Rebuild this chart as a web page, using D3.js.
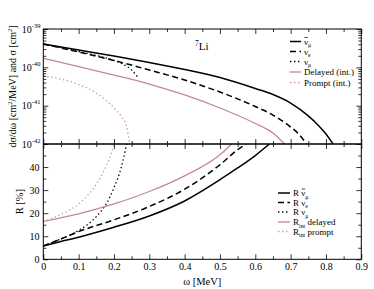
<!DOCTYPE html>
<html>
<head>
<meta charset="utf-8">
<script src="https://cdn.jsdelivr.net/npm/d3@7"></script>
<style>
  body { margin: 0; background: #fff; }
  text { font-family: "Liberation Serif", "Times New Roman", serif; fill: #000; }
</style>
</head>
<body>
<script>
// omega [MeV] / cross section [cm^2/MeV]
const sigmaAntiNuMu = [[0, 4.06e-40], [0.1, 2.83e-40], [0.2, 1.98e-40], [0.3, 1.34e-40], [0.4, 8.8e-41],
  [0.5, 5.4e-41], [0.6, 2.8e-41], [0.65, 1.95e-41], [0.7, 1.17e-41], [0.75, 5.4e-42], [0.78, 2.95e-42],
  [0.8, 1.82e-42], [0.82, 1e-42]];
const sigmaNuE = [[0, 4.06e-40], [0.1, 2.51e-40], [0.2, 1.51e-40], [0.3, 8.5e-41], [0.4, 4.67e-41],
  [0.5, 2.27e-41], [0.6, 9.5e-42], [0.65, 5.7e-42], [0.7, 2.77e-42], [0.72, 1.94e-42], [0.745, 1e-42]];
const sigmaNuMu = [[0, 4.06e-40], [0.1, 2.59e-40], [0.15, 2.04e-40], [0.2, 1.51e-40], [0.23, 1.15e-40],
  [0.25, 8.5e-41], [0.265, 5.94e-41], [0.27, 5.27e-41]];
const sigmaDelayed = [[0, 1.72e-40], [0.1, 1.05e-40], [0.2, 6.3e-41], [0.3, 3.67e-41], [0.4, 1.9e-41],
  [0.5, 8.7e-42], [0.6, 3.43e-42], [0.65, 1.94e-42], [0.683, 1e-42]];
const sigmaPrompt = [[0, 5.94e-41], [0.05, 4.96e-41], [0.1, 3.57e-41], [0.15, 2.14e-41], [0.2, 8.7e-42],
  [0.22, 5.37e-42], [0.235, 2.94e-42], [0.245, 1e-42]];

// omega [MeV] / R [%]
const rAntiNuMu = [[0, 5.8], [0.05, 7.7], [0.1, 9.6], [0.2, 13.9], [0.3, 18.8], [0.4, 25.3], [0.5, 34.5],
  [0.55, 39.6], [0.6, 45], [0.64, 50]];
const rNuE = [[0, 5.8], [0.05, 8.8], [0.1, 12], [0.2, 17.1], [0.3, 22.9], [0.4, 30.4], [0.5, 41],
  [0.55, 47.5], [0.574, 50]];
const rNuMu = [[0, 5.8], [0.05, 8.8], [0.1, 12.5], [0.15, 18.5], [0.18, 24.5], [0.2, 31], [0.22, 39.5],
  [0.236, 50]];
const rDelayed = [[0, 16.4], [0.1, 19.7], [0.2, 24], [0.3, 29.4], [0.4, 36.2], [0.5, 45.3], [0.533, 50]];
const rPrompt = [[0, 16.4], [0.05, 19.5], [0.1, 24], [0.13, 28.5], [0.15, 32.5], [0.17, 38], [0.19, 45],
  [0.2, 50]];

const xTicks = [0, 0.1, 0.2, 0.3, 0.4, 0.5, 0.6, 0.7, 0.8, 0.9];
const xLabels = ["0", "0.1", "0.2", "0.3", "0.4", "0.5", "0.6", "0.7", "0.8", "0.9"];
const decadeTicks = [1e-42, 1e-41, 1e-40, 1e-39];
const decadeLabels = ["-42", "-41", "-40", "-39"];
const rTicks = [0, 10, 20, 30, 40];

// legend labels: [main, sub, overbar]
const topLegend = [["ν", "μ", true], ["ν", "e", false], ["ν", "μ", false], ["Delayed (int.)", "", false], ["Prompt (int.)", "", false]];
const bottomLegend = [["R ν", "μ", true], ["R ν", "e", false], ["R ν", "μ", false], ["R", "int", false], ["R", "int", false]];
const bottomLegendTail = ["", "", "", " delayed", " prompt"];

let svg = null;
let x, yTop, yBot = null;
let pLeft = 43.3, pRight = 361.3, pTop = 29, pMid = 144, pBottom = 259.3;

const styles = [
  { color: "#000", width: 1.5, dash: null },
  { color: "#000", width: 1.5, dash: "6,3.5" },
  { color: "#000", width: 1.3, dash: "1.4,2.6" },
  { color: "#c48a8a", width: 1.3, dash: null },
  { color: "#d09a9a", width: 1.3, dash: "1.4,2.6" }
];

main();

function main() {
  svg = d3.select("body").append("svg").attr("width", 374).attr("height", 289);
  setupScales();
  appendClips();
  appendCurves();
  appendAxes();
  appendFrame();
  appendLabels();
  appendLegends();
}

function setupScales() {
  x = d3.scaleLinear().domain([0, 0.9]).range([pLeft, pRight]);
  yTop = d3.scaleLog().domain([1e-42, 1e-39]).range([pMid, pTop]);
  yBot = d3.scaleLinear().domain([0, 50]).range([pBottom, pMid]);
}

function appendClips() {
  let defs = svg.append("defs");
  defs.append("clipPath").attr("id", "clipTop").append("rect")
    .attr("x", pLeft).attr("y", pTop).attr("width", pRight - pLeft).attr("height", pMid - pTop);
  defs.append("clipPath").attr("id", "clipBot").append("rect")
    .attr("x", pLeft).attr("y", pMid).attr("width", pRight - pLeft).attr("height", pBottom - pMid);
}

function drawLine(g, data, yScale, st) {
  let line = d3.line()
    .x(function (d) { return x(d[0]); })
    .y(function (d) { return yScale(d[1]); })
    .curve(d3.curveMonotoneX);
  g.append("path")
    .datum(data)
    .attr("d", line)
    .attr("fill", "none")
    .attr("stroke", st.color)
    .attr("stroke-width", st.width)
    .attr("stroke-dasharray", st.dash);
}

function appendCurves() {
  let gt = svg.append("g").attr("clip-path", "url(#clipTop)");
  [sigmaAntiNuMu, sigmaNuE, sigmaNuMu, sigmaDelayed, sigmaPrompt].forEach(function (d, i) {
    drawLine(gt, d, yTop, styles[i]);
  });
  let gb = svg.append("g").attr("clip-path", "url(#clipBot)");
  [rAntiNuMu, rNuE, rNuMu, rDelayed, rPrompt].forEach(function (d, i) {
    drawLine(gb, d, yBot, styles[i]);
  });
}

function tickGroup(axis, tx, ty) {
  let g = svg.append("g").attr("transform", `translate(${tx}, ${ty})`).call(axis);
  g.select(".domain").remove();
  g.selectAll("line").attr("stroke", "#000").attr("stroke-width", 0.8);
  return g;
}

function appendAxes() {
  let minorX = d3.range(0.05, 0.9, 0.1);
  let logMinor = [];
  [1e-42, 1e-41, 1e-40].forEach(function (d) {
    for (let k = 2; k <= 9; k++) logMinor.push(d * k);
  });
  let rMinor = [5, 15, 25, 35, 45];

  // x ticks on every horizontal edge, pointing inward
  [[pTop, "down"], [pMid, "up"], [pMid, "down"], [pBottom, "up"]].forEach(function (p) {
    let s = p[1] == "down" ? 1 : -1;
    let maj = d3.axisBottom(x).tickValues(xTicks).tickSize(5 * s).tickFormat("");
    let mn = d3.axisBottom(x).tickValues(minorX).tickSize(3 * s).tickFormat("");
    tickGroup(maj, 0, p[0]);
    tickGroup(mn, 0, p[0]);
  });

  // x labels
  let xl = tickGroup(d3.axisBottom(x).tickValues(xTicks).tickSize(0).tickPadding(4)
    .tickFormat(function (d, i) { return xLabels[i]; }), 0, pBottom);
  xl.selectAll("text").attr("font-size", 10).style("font-family", "Liberation Serif");

  // top panel y ticks
  tickGroup(d3.axisRight(yTop).tickValues(decadeTicks).tickSize(5).tickFormat(""), pLeft, 0);
  tickGroup(d3.axisRight(yTop).tickValues(logMinor).tickSize(3).tickFormat(""), pLeft, 0);
  tickGroup(d3.axisLeft(yTop).tickValues(decadeTicks).tickSize(5).tickFormat(""), pRight, 0);
  tickGroup(d3.axisLeft(yTop).tickValues(logMinor).tickSize(3).tickFormat(""), pRight, 0);

  // bottom panel y ticks
  tickGroup(d3.axisRight(yBot).tickValues(rTicks).tickSize(5).tickFormat(""), pLeft, 0);
  tickGroup(d3.axisRight(yBot).tickValues(rMinor).tickSize(3).tickFormat(""), pLeft, 0);
  tickGroup(d3.axisLeft(yBot).tickValues(rTicks).tickSize(5).tickFormat(""), pRight, 0);
  tickGroup(d3.axisLeft(yBot).tickValues(rMinor).tickSize(3).tickFormat(""), pRight, 0);

  // log labels 10^n
  decadeTicks.forEach(function (d, i) {
    let t = svg.append("text")
      .attr("x", 40.5).attr("y", yTop(d) + 3.5)
      .attr("text-anchor", "end").attr("font-size", 10);
    t.append("tspan").text("10");
    t.append("tspan").attr("font-size", 6.5).attr("dy", -5).text(decadeLabels[i]);
  });

  rTicks.forEach(function (d) {
    svg.append("text")
      .attr("x", 39.5).attr("y", yBot(d) + 3.5)
      .attr("text-anchor", "end").attr("font-size", 10)
      .text(d);
  });
}

function appendFrame() {
  svg.append("rect")
    .attr("x", pLeft).attr("y", pTop).attr("width", pRight - pLeft).attr("height", pBottom - pTop)
    .attr("fill", "none").attr("stroke", "#000").attr("stroke-width", 1);
  svg.append("line")
    .attr("x1", pLeft).attr("x2", pRight).attr("y1", pMid).attr("y2", pMid)
    .attr("stroke", "#000").attr("stroke-width", 1.5);
}

function appendLabels() {
  // 7Li
  let li = svg.append("text").attr("x", 195).attr("y", 50).attr("font-size", 11);
  li.append("tspan").attr("font-size", 7.5).attr("dy", -4).text("7");
  li.append("tspan").attr("dy", 4).text("Li");

  // y title top
  let yt = svg.append("text")
    .attr("transform", `translate(16, ${(pTop + pMid) / 2}) rotate(-90)`)
    .attr("text-anchor", "middle").attr("font-size", 10);
  yt.append("tspan").text("dσ/dω  [cm");
  yt.append("tspan").attr("font-size", 6.5).attr("dy", -4).text("2");
  yt.append("tspan").attr("dy", 4).text("/MeV]  and  σ  [cm");
  yt.append("tspan").attr("font-size", 6.5).attr("dy", -4).text("2");
  yt.append("tspan").attr("dy", 4).text("]");

  svg.append("text")
    .attr("transform", `translate(23, ${(pMid + pBottom) / 2}) rotate(-90)`)
    .attr("text-anchor", "middle").attr("font-size", 10.5)
    .text("R [%]");

  svg.append("text")
    .attr("x", (pLeft + pRight) / 2).attr("y", 285)
    .attr("text-anchor", "middle").attr("font-size", 10.5)
    .text("ω [MeV]");
}

function legendText(tx, ty, main, sub, bar, tail, fs) {
  let t = svg.append("text").attr("x", tx).attr("y", ty).attr("font-size", fs);
  let m = t.append("tspan").text(main);
  if (sub) {
    t.append("tspan").attr("font-size", fs * 0.65).attr("dy", 2.5).text(sub);
    t.append("tspan").attr("dy", -2.5).text(tail || "");
  } else if (tail) {
    t.append("tspan").text(tail);
  }
  if (bar) {
    // overbar above the last letter of the main part
    let node = t.node();
    let n = main.length;
    let start = node.getSubStringLength(0, n - 1);
    let w = node.getSubStringLength(n - 1, 1);
    svg.append("line")
      .attr("x1", tx + start + 0.4).attr("x2", tx + start + w - 0.2)
      .attr("y1", ty - 7).attr("y2", ty - 7)
      .attr("stroke", "#000").attr("stroke-width", 0.7);
  }
}

function appendLegends() {
  let topRows = [41.5, 51.5, 61.5, 72, 82.5];
  topLegend.forEach(function (d, i) {
    let y = topRows[i];
    svg.append("line").attr("x1", 290).attr("x2", 301).attr("y1", y).attr("y2", y)
      .attr("stroke", styles[i].color).attr("stroke-width", styles[i].width)
      .attr("stroke-dasharray", styles[i].dash);
    legendText(304, y + 3, d[0], d[1], d[2], "", 9);
  });

  let botRows = [193, 202.5, 212, 222, 231.5];
  bottomLegend.forEach(function (d, i) {
    let y = botRows[i];
    svg.append("line").attr("x1", 278).attr("x2", 290).attr("y1", y).attr("y2", y)
      .attr("stroke", styles[i].color).attr("stroke-width", styles[i].width)
      .attr("stroke-dasharray", styles[i].dash);
    legendText(293, y + 3, d[0], d[1], d[2], bottomLegendTail[i], 9);
  });
}
</script>
</body>
</html>
